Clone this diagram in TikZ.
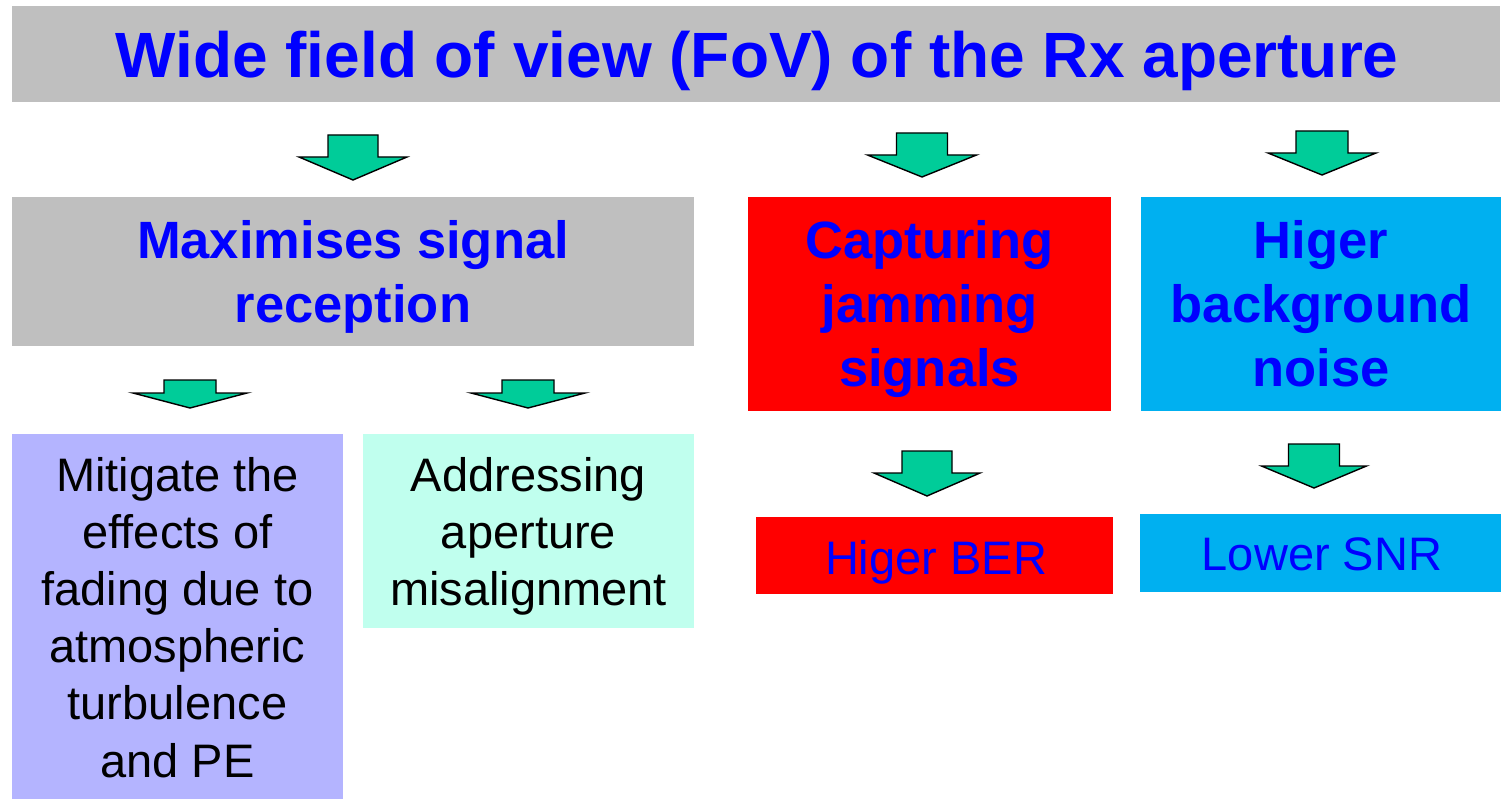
\documentclass[tikz,border=0pt]{standalone}
\usepackage{fontspec}
\setmainfont{Liberation Sans}
\definecolor{boxgray}{HTML}{BFBFBF}
\definecolor{txtblue}{HTML}{0000FF}
\definecolor{boxred}{HTML}{FF0000}
\definecolor{boxcyan}{HTML}{00B0F0}
\definecolor{boxlav}{HTML}{B4B4FF}
\definecolor{boxmint}{HTML}{C0FFEE}
\definecolor{arrgreen}{HTML}{00CC99}
\newcommand{\mlines}[3]{{\fontsize{#1}{#2}\selectfont\renewcommand{\arraystretch}{1}\begin{tabular}[t]{@{}c@{}}#3\end{tabular}}}
% block arrow: cx, top, head y, tip y, shaft half width, head half width
\newcommand{\garrow}[6]{%
  \draw[garrowstyle] ({#1-#5},#2) -- ({#1+#5},#2) -- ({#1+#5},#3) -- ({#1+#6},#3)
    -- (#1,#4) -- ({#1-#6},#3) -- ({#1-#5},#3) -- cycle;}
\begin{document}
\begin{tikzpicture}[x=1pt,y=-1pt,
  boxstyle/.style={draw=none,inner sep=0pt,anchor=north west},
  txtstyle/.style={inner sep=0pt,anchor=base},
  garrowstyle/.style={fill=arrgreen,draw=black,line width=1.4pt,line join=miter}]
\useasboundingbox (0,0) rectangle (1501,799);
\fill[white] (0,0) rectangle (1501,799);

% boxes
\node[boxstyle,fill=boxgray,minimum width=1488pt,minimum height=96pt] (title) at (12,6) {};
\node[boxstyle,fill=boxgray,minimum width=682pt,minimum height=149pt] (maxb) at (12,197) {};
\node[boxstyle,fill=boxred,minimum width=363pt,minimum height=214pt] (capb) at (748,197) {};
\node[boxstyle,fill=boxcyan,minimum width=360pt,minimum height=214pt] (higb) at (1141,197) {};
\node[boxstyle,fill=boxlav,minimum width=331pt,minimum height=365pt] (mitb) at (12,434) {};
\node[boxstyle,fill=boxmint,minimum width=331pt,minimum height=194pt] (addb) at (363,434) {};
\node[boxstyle,fill=boxred,minimum width=357pt,minimum height=77pt] (berb) at (756,517) {};
\node[boxstyle,fill=boxcyan,minimum width=361pt,minimum height=78pt] (snrb) at (1140,514) {};

% texts
\node[txtstyle,text=txtblue] (titlet) at (757,78) {\mlines{64}{76}{\bfseries Wide field of view (FoV) of the Rx aperture}};
\node[txtstyle,text=txtblue] (maxt) at (353,259) {\mlines{52.5}{64}{\bfseries Maximises signal\\\bfseries reception}};
\node[txtstyle,text=txtblue] (capt) at (929.5,259) {\mlines{52.5}{64}{\bfseries Capturing\\\bfseries jamming\\\bfseries signals}};
\node[txtstyle,text=txtblue] (higt) at (1321,259) {\mlines{52.5}{64}{\bfseries Higer\\\bfseries background\\\bfseries noise}};
\node[txtstyle,text=black] (mitt) at (177.5,491) {\mlines{47}{57.2}{Mitigate the\\effects of\\fading due to\\atmospheric\\turbulence\\and PE}};
\node[txtstyle,text=black] (addt) at (528.5,491) {\mlines{47}{57.2}{Addressing\\aperture\\misalignment}};
\node[txtstyle,text=txtblue] (bert) at (936,574) {\mlines{47}{57}{Higer BER}};
\node[txtstyle,text=txtblue] (snrt) at (1322,570) {\mlines{47}{57}{Lower SNR}};

% block arrows
\garrow{353}{135}{157}{180}{25}{54}
\garrow{922}{133}{155}{177}{25.5}{54.5}
\garrow{1322}{131}{153}{175}{26}{54}
\garrow{190}{380}{393}{408}{26}{57}
\garrow{528}{380}{393}{408}{26}{57}
\garrow{927}{451}{473}{496}{25}{53}
\garrow{1314}{444}{466}{488}{25.5}{52.5}
\end{tikzpicture}
\end{document}
